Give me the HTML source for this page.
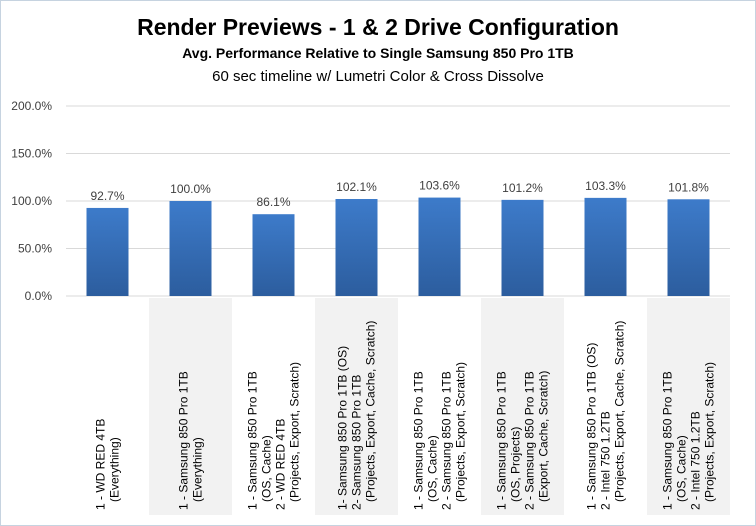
<!DOCTYPE html>
<html><head><meta charset="utf-8"><style>
body{margin:0;background:#fff;}
svg{display:block;font-family:"Liberation Sans",sans-serif;}
</style></head><body>
<svg id="chart" width="756" height="526">
<rect x="0.5" y="0.5" width="755" height="525" fill="#fff" stroke="#c6d3e0"/>
<defs><linearGradient id="bg" x1="0" y1="0" x2="0" y2="1"><stop offset="0" stop-color="#3d7bca"/><stop offset="1" stop-color="#2c5d9e"/></linearGradient></defs>
<text x="378" y="35" text-anchor="middle" font-size="23" font-weight="bold" fill="#000">Render Previews - 1 &amp; 2 Drive Configuration</text>
<text x="378" y="58" text-anchor="middle" font-size="14" font-weight="bold" fill="#000">Avg. Performance Relative to Single Samsung 850 Pro 1TB</text>
<text x="378" y="81" text-anchor="middle" font-size="15" fill="#000">60 sec timeline w/ Lumetri Color &amp; Cross Dissolve</text>
<g id="plot"></g>
</svg>
<script>
const categories=[
 ["1 - WD RED 4TB","(Everything)"],
 ["1 - Samsung 850 Pro 1TB","(Everything)"],
 ["1 - Samsung 850 Pro 1TB","(OS, Cache)","2 - WD RED 4TB","(Projects, Export, Scratch)"],
 ["1- Samsung 850 Pro 1TB (OS)","2- Samsung 850 Pro 1TB","(Projects, Export, Cache, Scratch)"],
 ["1 - Samsung 850 Pro 1TB","(OS, Cache)","2 - Samsung 850 Pro 1TB","(Projects, Export, Scratch)"],
 ["1 - Samsung 850 Pro 1TB","(OS, Projects)","2 - Samsung 850 Pro 1TB","(Export, Cache, Scratch)"],
 ["1 - Samsung 850 Pro 1TB (OS)","2 - Intel 750 1.2TB","(Projects, Export, Cache, Scratch)"],
 ["1 - Samsung 850 Pro 1TB","(OS, Cache)","2 - Intel 750 1.2TB","(Projects, Export, Scratch)"]
];
const values=[92.7,100.0,86.1,102.1,103.6,101.2,103.3,101.8];
const yTicks=[0,50,100,150,200];
const yTickLabels=["0.0%","50.0%","100.0%","150.0%","200.0%"];
const NS="http://www.w3.org/2000/svg";
const g=document.getElementById('plot');
const X0=66,X1=730,Y0=296,Y1=106,YMAX=200;
const step=(X1-X0)/categories.length;
const y=v=>Y0-(v/YMAX)*(Y0-Y1);
const xc=i=>X0+step*(i+0.5);
function mk(t,a){const e=document.createElementNS(NS,t);for(const k in a)e.setAttribute(k,a[k]);g.appendChild(e);return e;}
categories.forEach((c,i)=>{if(i%2===1){const r=mk('rect',{x:X0+step*i,y:Y0+2,width:step,height:217,fill:'#f2f2f2'});

}});
yTicks.forEach((t,i)=>{const l=mk('line',{x1:X0,x2:X1,y1:y(t),y2:y(t),stroke:'#d9d9d9'});


const tx=mk('text',{x:52,y:y(t)+4,'text-anchor':'end','font-size':12,fill:'#404040'});tx.textContent=yTickLabels[i];

});
const bw=42;
values.forEach((v,i)=>{const b=mk('rect',{x:xc(i)-bw/2,y:y(v),width:bw,height:Y0-y(v),fill:'url(#bg)'});


const t=mk('text',{x:xc(i),y:y(v)-8,'text-anchor':'middle','font-size':12,fill:'#404040'});t.textContent=v.toFixed(1)+'%';

});
categories.forEach((c,i)=>{const n=c.length,lh=14;const start=xc(i)-(n-1)*lh/2+4;
c.forEach((ln,j)=>{const ind=ln.startsWith('(')?8:0;const xx=start+j*lh;
const t=mk('text',{x:0,y:0,'font-size':12,fill:'#000',transform:`translate(${xx},${510-ind}) rotate(-90)`});t.textContent=ln;

});});
</script>
</body></html>
